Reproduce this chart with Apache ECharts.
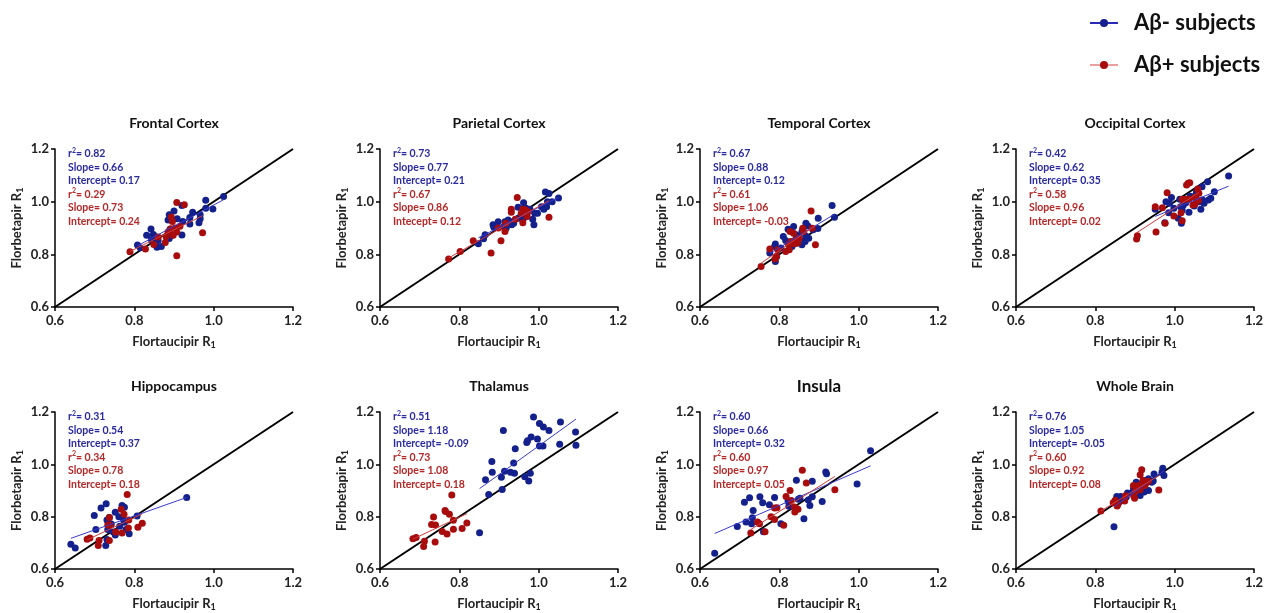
<!DOCTYPE html>
<html>
<head>
<meta charset="utf-8">
<script src="https://cdn.jsdelivr.net/npm/echarts@6/dist/echarts.min.js"></script>
<style>
html,body{margin:0;padding:0;background:#fff}
#main{width:1276px;height:613px}
</style>
</head>
<body>
<div id="main"></div>
<script>
var regions = ['Frontal Cortex','Parietal Cortex','Temporal Cortex','Occipital Cortex','Hippocampus','Thalamus','Insula','Whole Brain'];
var ticks = [0.6, 0.8, 1.0, 1.2];

// [Flortaucipir R1, Florbetapir R1]
var frontalNeg = [[1.025,1.02],[0.98,1.005],[0.98,0.975],[0.998,0.972],[0.966,0.95],[0.966,0.935],[0.963,0.92],[0.947,0.96],[0.94,0.94],[0.94,0.915],[0.922,0.925],[0.92,0.985],[0.90,0.965],[0.908,0.935],[0.888,0.95],[0.885,0.93],[0.89,0.895],[0.888,0.86],[0.895,0.872],[0.92,0.873],[0.842,0.896],[0.831,0.872],[0.848,0.875],[0.843,0.855],[0.86,0.853],[0.857,0.827],[0.868,0.83],[0.808,0.835],[0.815,0.825],[0.853,0.867]];
var frontalPos = [[0.907,0.997],[0.926,0.988],[0.893,0.942],[0.896,0.925],[0.903,0.9],[0.915,0.907],[0.907,0.885],[0.885,0.885],[0.898,0.872],[0.88,0.867],[0.86,0.866],[0.849,0.837],[0.828,0.82],[0.789,0.81],[0.907,0.795],[0.972,0.882],[0.892,0.897],[0.878,0.845]];
var parietalNeg = [[1.017,1.037],[1.026,1.031],[1.05,1.014],[1.034,1.0],[1.022,1.0],[1.007,0.981],[1.02,0.981],[1.013,0.971],[0.997,0.956],[0.99,0.956],[0.985,0.933],[0.988,0.912],[0.962,0.996],[0.948,0.979],[0.968,0.975],[0.962,0.937],[0.95,0.937],[0.937,0.918],[0.932,0.912],[0.923,0.93],[0.915,0.924],[0.898,0.924],[0.885,0.912],[0.912,0.905],[0.887,0.903],[0.865,0.874],[0.861,0.859],[0.848,0.84],[0.918,0.899],[0.978,0.971]];
var parietalPos = [[0.946,1.016],[0.931,0.971],[0.931,0.96],[0.917,0.918],[0.915,0.887],[0.898,0.9],[0.905,0.852],[0.88,0.805],[0.835,0.852],[0.802,0.811],[0.773,0.782],[0.96,0.971],[0.967,0.968],[0.973,0.962],[0.96,0.92],[0.971,0.944],[1.026,0.941],[0.941,0.933],[0.956,0.956]];
var temporalNeg = [[0.933,0.985],[0.939,0.941],[0.898,0.937],[0.897,0.898],[0.885,0.893],[0.867,0.918],[0.872,0.908],[0.836,0.906],[0.822,0.895],[0.81,0.868],[0.816,0.853],[0.842,0.874],[0.85,0.868],[0.857,0.887],[0.867,0.87],[0.865,0.849],[0.857,0.836],[0.844,0.843],[0.79,0.839],[0.788,0.83],[0.804,0.824],[0.776,0.805],[0.793,0.792],[0.79,0.773],[0.832,0.83],[0.838,0.852],[0.848,0.858],[0.874,0.861]];
var temporalPos = [[0.88,0.965],[0.891,0.836],[0.859,0.899],[0.861,0.887],[0.827,0.887],[0.836,0.88],[0.85,0.861],[0.842,0.855],[0.846,0.843],[0.829,0.849],[0.823,0.836],[0.825,0.817],[0.816,0.811],[0.796,0.817],[0.776,0.82],[0.793,0.792],[0.789,0.782],[0.754,0.754],[0.883,0.899],[0.838,0.84]];
var occipitalNeg = [[1.136,1.097],[1.083,1.076],[1.069,1.057],[1.055,1.038],[1.053,1.025],[1.039,1.021],[1.1,1.038],[1.091,1.013],[1.085,1.006],[1.07,1.006],[1.074,0.994],[1.062,1.0],[1.066,0.971],[1.049,0.984],[1.036,0.96],[1.028,0.996],[1.022,0.987],[1.015,0.981],[1.019,0.968],[1.017,0.918],[1.009,0.937],[0.998,0.975],[0.987,0.994],[0.992,1.016],[0.978,1.0],[0.985,0.958],[0.951,0.971],[0.975,0.92],[1.013,1.009]];
var occipitalPos = [[1.034,1.07],[1.038,1.072],[1.03,1.063],[1.058,1.048],[1.061,1.032],[1.05,1.016],[1.055,1.006],[1.06,1.004],[1.051,0.99],[1.028,1.009],[1.019,1.009],[1.046,0.987],[1.016,0.958],[1.019,0.928],[0.998,0.946],[0.981,1.034],[0.969,0.977],[0.951,0.981],[0.976,0.918],[0.953,0.885],[0.906,0.871],[0.904,0.858],[1.036,1.009]];
var hippoNeg = [[0.932,0.873],[0.807,0.803],[0.775,0.836],[0.769,0.843],[0.761,0.8],[0.752,0.817],[0.737,0.797],[0.731,0.787],[0.742,0.772],[0.729,0.849],[0.716,0.833],[0.699,0.804],[0.703,0.751],[0.733,0.751],[0.747,0.741],[0.752,0.73],[0.731,0.713],[0.728,0.69],[0.779,0.751],[0.787,0.735],[0.773,0.787],[0.64,0.695],[0.651,0.68],[0.763,0.763],[0.775,0.779]];
var hippoPos = [[0.782,0.885],[0.767,0.828],[0.774,0.809],[0.786,0.787],[0.737,0.797],[0.733,0.768],[0.739,0.768],[0.753,0.741],[0.785,0.757],[0.769,0.738],[0.809,0.76],[0.82,0.775],[0.688,0.718],[0.681,0.714],[0.711,0.709],[0.709,0.69],[0.737,0.709]];
var thalamusNeg = [[0.987,1.181],[1.002,1.156],[1.012,1.143],[1.026,1.129],[1.055,1.162],[0.911,1.129],[0.981,1.104],[0.997,1.097],[0.97,1.083],[0.972,1.09],[1.002,1.07],[1.011,1.07],[1.053,1.077],[1.093,1.124],[1.094,1.073],[0.941,1.06],[0.937,1.005],[0.882,1.011],[0.883,0.97],[0.914,0.974],[0.929,0.97],[0.939,0.966],[0.906,0.951],[0.866,0.941],[0.908,0.904],[0.874,0.885],[0.965,0.953],[0.979,0.966],[0.975,0.936],[0.851,0.739]];
var thalamusPos = [[0.781,0.883],[0.764,0.824],[0.765,0.82],[0.775,0.809],[0.785,0.786],[0.819,0.776],[0.807,0.755],[0.785,0.752],[0.735,0.799],[0.73,0.77],[0.74,0.768],[0.757,0.743],[0.769,0.734],[0.691,0.72],[0.683,0.716],[0.712,0.706],[0.71,0.686],[0.739,0.703]];
var insulaNeg = [[1.03,1.052],[0.996,0.925],[0.917,0.971],[0.919,0.964],[0.908,0.858],[0.883,0.935],[0.843,0.939],[0.883,0.876],[0.873,0.864],[0.877,0.843],[0.852,0.87],[0.822,0.86],[0.824,0.84],[0.862,0.792],[0.804,0.773],[0.788,0.873],[0.775,0.846],[0.751,0.876],[0.758,0.853],[0.725,0.872],[0.712,0.855],[0.734,0.824],[0.732,0.796],[0.716,0.78],[0.73,0.773],[0.694,0.762],[0.76,0.742],[0.637,0.66],[0.848,0.867]];
var insulaPos = [[0.858,0.977],[0.868,0.929],[0.94,0.903],[0.827,0.9],[0.817,0.877],[0.83,0.862],[0.838,0.837],[0.847,0.828],[0.839,0.818],[0.788,0.833],[0.794,0.834],[0.779,0.8],[0.788,0.789],[0.811,0.767],[0.745,0.78],[0.75,0.773],[0.764,0.742],[0.728,0.738],[0.843,0.831]];
var wholeNeg = [[0.97,0.985],[0.968,0.97],[0.973,0.957],[0.948,0.963],[0.946,0.936],[0.934,0.945],[0.927,0.93],[0.934,0.9],[0.923,0.894],[0.915,0.9],[0.913,0.881],[0.907,0.913],[0.896,0.906],[0.892,0.89],[0.881,0.89],[0.878,0.875],[0.872,0.862],[0.864,0.877],[0.854,0.877],[0.86,0.856],[0.847,0.761],[0.915,0.925],[0.903,0.932],[0.942,0.932],[0.923,0.938]];
var wholePos = [[0.917,0.979],[0.913,0.96],[0.96,0.902],[0.92,0.938],[0.927,0.928],[0.934,0.935],[0.896,0.919],[0.909,0.919],[0.913,0.903],[0.902,0.898],[0.897,0.878],[0.899,0.87],[0.876,0.88],[0.85,0.863],[0.845,0.853],[0.857,0.847],[0.855,0.841],[0.874,0.86],[0.814,0.822],[0.925,0.919]];

var negData = [frontalNeg, parietalNeg, temporalNeg, occipitalNeg, hippoNeg, thalamusNeg, insulaNeg, wholeNeg];
var posData = [frontalPos, parietalPos, temporalPos, occipitalPos, hippoPos, thalamusPos, insulaPos, wholePos];

// printed statistics
var negR2 = ['0.82','0.73','0.67','0.42','0.31','0.51','0.60','0.76'];
var negSlope = ['0.66','0.77','0.88','0.62','0.54','1.18','0.66','1.05'];
var negIntercept = ['0.17','0.21','0.12','0.35','0.37','-0.09','0.32','-0.05'];
var posR2 = ['0.29','0.67','0.61','0.58','0.34','0.73','0.60','0.60'];
var posSlope = ['0.73','0.86','1.06','0.96','0.78','1.08','0.97','0.92'];
var posIntercept = ['0.24','0.12','-0.03','0.02','0.18','0.18','0.05','0.08'];
var posInterceptWord = ['Intercept','Intecept','Intercept','Intercept','Intercept','Intercept','Intercept','Intercept'];

var BLUE = '#14208c', RED = '#a80c0c';
var BLUE_TXT = '#2b2ba0', RED_TXT = '#b42828';
var FONT = 'Lato, "Open Sans", sans-serif';

var colLeft = [55, 380, 700, 1016];
var rowTop = [149, 412];
var gW = 238, gH = 158;

function fitLine(pts) {
    var n = pts.length, mx = 0, my = 0, sxy = 0, sxx = 0, xmin = Infinity, xmax = -Infinity;
    pts.forEach(function (p) { mx += p[0]; my += p[1]; });
    mx /= n; my /= n;
    pts.forEach(function (p) {
        sxy += (p[0] - mx) * (p[1] - my);
        sxx += (p[0] - mx) * (p[0] - mx);
        xmin = Math.min(xmin, p[0]); xmax = Math.max(xmax, p[0]);
    });
    var b = sxy / sxx, a = my - b * mx;
    return [[xmin, a + b * xmin], [xmax, a + b * xmax]];
}

var nameRich = { sub: { fontSize: 9, fontWeight: 'bold', fontFamily: FONT, color: '#222', lineHeight: 6, verticalAlign: 'bottom' } };

var grids = [], xAxes = [], yAxes = [], series = [], graphics = [];
var axMin = ticks[0], axMax = ticks[ticks.length - 1];

regions.forEach(function (name, i) {
    var left = colLeft[i % 4], top = rowTop[Math.floor(i / 4)];
    grids.push({ left: left, top: top, width: gW, height: gH });
    var common = {
        gridIndex: i, type: 'value', min: axMin, max: axMax, interval: 0.2,
        axisLine: { show: true, onZero: false, lineStyle: { color: '#000', width: 1.5 } },
        axisTick: { show: true, length: 4, lineStyle: { color: '#000', width: 1.5 } },
        splitLine: { show: false },
        axisLabel: { fontSize: 13, fontWeight: 'bold', fontFamily: FONT, color: '#222',
            formatter: function (v) { return v.toFixed(1); } },
        nameLocation: 'middle',
        nameTextStyle: { fontSize: 13, fontWeight: 'bold', fontFamily: FONT, color: '#222', lineHeight: 16, rich: nameRich }
    };
    xAxes.push(Object.assign({}, common, { name: 'Flortaucipir R{sub|1}', nameGap: 27,
        axisLabel: Object.assign({}, common.axisLabel, { margin: 7 }) }));
    yAxes.push(Object.assign({}, common, { name: 'Florbetapir R{sub|1}', nameGap: 30,
        axisLabel: Object.assign({}, common.axisLabel, { margin: 6 }) }));

    series.push({ type: 'line', xAxisIndex: i, yAxisIndex: i, data: [[axMin, axMin], [axMax, axMax]],
        symbol: 'none', silent: true, z: 1, lineStyle: { color: '#000', width: 2 } });
    series.push({ type: 'scatter', xAxisIndex: i, yAxisIndex: i, data: negData[i], symbolSize: 7, z: 2,
        itemStyle: { color: BLUE, opacity: 1 } });
    series.push({ type: 'scatter', xAxisIndex: i, yAxisIndex: i, data: posData[i], symbolSize: 7, z: 3,
        itemStyle: { color: RED, opacity: 1 } });
    series.push({ type: 'line', xAxisIndex: i, yAxisIndex: i, data: fitLine(negData[i]), symbol: 'none', z: 4,
        lineStyle: { color: '#3a3ad0', width: 1 } });
    series.push({ type: 'line', xAxisIndex: i, yAxisIndex: i, data: fitLine(posData[i]), symbol: 'none', z: 4,
        lineStyle: { color: '#d03c3c', width: 1 } });

    // panel title
    var big = name === 'Insula';
    graphics.push({ type: 'text', x: left + gW / 2, y: top - (big ? 25 : 26),
        style: { text: name, align: 'center', verticalAlign: 'middle', fill: '#111',
            font: 'bold ' + (big ? 17 : 14) + 'px ' + FONT } });

    // stats block
    var txt = [
        '{b|r}{bs|2}{b|= ' + negR2[i] + '}',
        '{b|Slope= ' + negSlope[i] + '}',
        '{b|Intercept= ' + negIntercept[i] + '}',
        '{r|r}{rs|2}{r|= ' + posR2[i] + '}',
        '{r|Slope= ' + posSlope[i] + '}',
        '{r|' + posInterceptWord[i] + '= ' + posIntercept[i] + '}'
    ].join('\n');
    graphics.push({ type: 'text', x: left + 13, y: top - 2,
        style: { text: txt, verticalAlign: 'top', align: 'left',
            rich: {
                b: { fill: BLUE_TXT, fontSize: 10.5, fontWeight: 'bold', fontFamily: FONT, lineHeight: 13.5 },
                bs: { fill: BLUE_TXT, fontSize: 7, fontWeight: 'bold', fontFamily: FONT, lineHeight: 7, verticalAlign: 'top' },
                r: { fill: RED_TXT, fontSize: 10.5, fontWeight: 'bold', fontFamily: FONT, lineHeight: 13.5 },
                rs: { fill: RED_TXT, fontSize: 7, fontWeight: 'bold', fontFamily: FONT, lineHeight: 7, verticalAlign: 'top' }
            } } });
});

// legend-only series
series.push({ type: 'line', name: 'Aβ- subjects', xAxisIndex: 0, yAxisIndex: 0, data: [],
    symbol: 'circle', symbolSize: 8, itemStyle: { color: BLUE }, lineStyle: { color: '#2a2ab8', width: 2 } });
series.push({ type: 'line', name: 'Aβ+ subjects', xAxisIndex: 0, yAxisIndex: 0, data: [],
    symbol: 'circle', symbolSize: 8, itemStyle: { color: RED }, lineStyle: { color: '#eaa0a0', width: 2 } });

var chart = echarts.init(document.getElementById('main'));
chart.setOption({
    backgroundColor: '#fff',
    animation: false,
    legend: {
        data: ['Aβ- subjects', 'Aβ+ subjects'], orient: 'vertical', left: 1089, top: 12, padding: 0,
        itemWidth: 28, itemHeight: 10, itemGap: 20, selectedMode: false,
        textStyle: { fontSize: 22, fontWeight: 'bold', fontFamily: FONT, color: '#111', padding: [0, 0, 0, 11] }
    },
    grid: grids,
    xAxis: xAxes,
    yAxis: yAxes,
    series: series,
    graphic: graphics
});
</script>
</body>
</html>
